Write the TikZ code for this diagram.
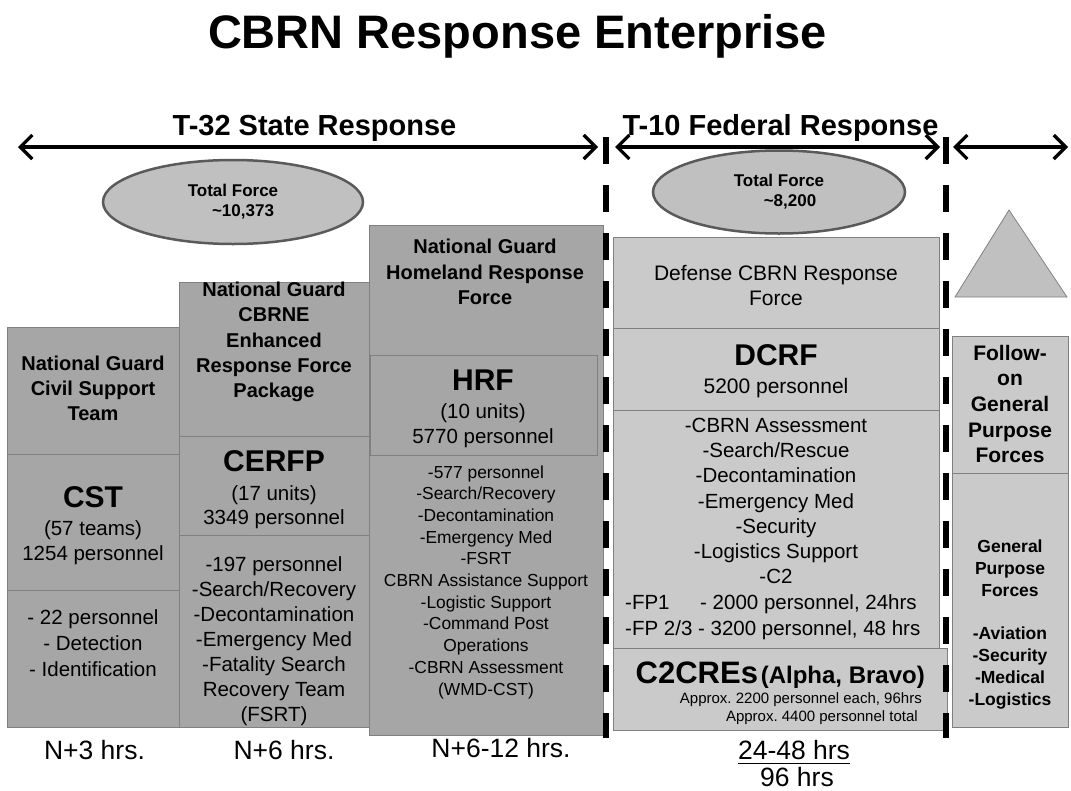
\documentclass[tikz,border=0pt]{standalone}
\usepackage{fontspec}
\setmainfont{Liberation Sans}
\usetikzlibrary{arrows.meta, positioning, shapes.geometric, calc}
\definecolor{ngfill}{RGB}{166,166,166}
\definecolor{fedfill}{RGB}{202,202,202}
\definecolor{boxedge}{RGB}{128,128,128}
\definecolor{ovalfill}{RGB}{192,192,192}
\definecolor{ovaledge}{RGB}{90,90,90}
\newcommand{\fsz}[2]{\fontsize{#1}{#2}\selectfont}

\begin{document}
\begin{tikzpicture}[x=1pt, y=-1pt,
    % -- boxes --
    ngbox/.style={rectangle, draw=boxedge, fill=ngfill, line width=0.8pt,
                  inner sep=0pt, anchor=north west},
    fedbox/.style={rectangle, draw=boxedge, fill=fedfill, line width=0.8pt,
                   inner sep=0pt, anchor=north west},
    oval/.style={ellipse, draw=ovaledge, fill=ovalfill, line width=2.5pt,
                 align=center, font=\fsz{17}{20}\bfseries},
    % -- texts --
    hdr/.style={align=center, font=\fsz{20}{25.3}\bfseries, inner sep=0pt},
    unit/.style={align=center, font=\fsz{20.5}{25}, inner sep=0pt},
    tasks/.style={align=center, font=\fsz{17.4}{21.7}, inner sep=0pt},
    hrs/.style={font=\fsz{26.5}{30}, inner sep=0pt},
    % -- lines --
    span/.style={line width=3.2pt,
                 {Straight Barb[length=12pt 0, width=24pt 0]}-{Straight Barb[length=12pt 0, width=24pt 0]}},
    border/.style={line width=6.5pt, dash pattern=on 27pt off 21pt}
]
\useasboundingbox (0,0) rectangle (1071,790);

% === Titles ===
\node[font=\fsz{47}{50}\bfseries] (title) at (517.5,36) {CBRN Response Enterprise};
\node[font=\fsz{29}{32}\bfseries] (statelbl) at (314.5,128.5) {T-32 State Response};
\node[font=\fsz{29}{32}\bfseries] (fedlbl) at (780.5,128.5) {T-10 Federal Response};

% === Total force ovals ===
\node[oval, minimum width=260pt, minimum height=84pt] (stateforce) at (233,202)
  {Total Force\\\hspace*{20pt}\textasciitilde10,373};
\node[oval, minimum width=252pt, minimum height=83pt] (fedforce) at (779,192)
  {Total Force\\\hspace*{22pt}\textasciitilde8,200};
\draw[fill=ovalfill, draw=boxedge, line width=0.8pt] (1009,210) -- (1067,297) -- (955,297) -- cycle;

% === Column boxes ===
\node[ngbox, minimum width=172pt, minimum height=127pt] (csthead)   at (7,327)   {};
\node[ngbox, minimum width=172pt, minimum height=136pt] (cstunit)   at (7,454)   {};
\node[ngbox, minimum width=172pt, minimum height=137pt] (csttasks)  at (7,590)   {};
\node[ngbox, minimum width=190pt, minimum height=154pt] (cerfphead) at (179,282) {};
\node[ngbox, minimum width=190pt, minimum height=99pt]  (cerfpunit) at (179,436) {};
\node[ngbox, minimum width=190pt, minimum height=192pt] (cerfptasks) at (179,535) {};
\node[ngbox, minimum width=234pt, minimum height=510pt] (hrfcol)    at (369,225) {};
\node[ngbox, minimum width=227pt, minimum height=100pt] (hrfunit)   at (370,355) {};
\node[fedbox, minimum width=326pt, minimum height=91pt]  (dcrfhead)  at (613,237) {};
\node[fedbox, minimum width=326pt, minimum height=82pt]  (dcrfunit)  at (613,328) {};
\node[fedbox, minimum width=326pt, minimum height=238pt] (dcrftasks) at (613,410) {};
\node[fedbox, minimum width=334pt, minimum height=82pt]  (c2cre)     at (613,648) {};
\node[fedbox, minimum width=116pt, minimum height=137pt] (gpfhead)   at (952,336) {};
\node[fedbox, minimum width=116pt, minimum height=254pt] (gpftasks)  at (952,473) {};

% === CST column ===
\node[hdr] (csthdr) at (93,388.5) {National Guard\\Civil Support\\Team};
\node[unit] (cstnum) at (93,526) {{\fsz{30}{32}\bfseries CST}\\[3pt](57 teams)\\1254 personnel};
\node[unit, font=\fsz{20.5}{26}] (cstlist) at (93,643.5) {- 22 personnel\\- Detection\\- Identification};

% === CERFP column ===
\node[hdr] (cerfphdr) at (274,342) {National Guard\\CBRNE\\Enhanced\\Response Force\\Package};
\node[unit, font=\fsz{20.5}{24}] (cerfpnum) at (274,490) {{\fsz{30}{32}\bfseries CERFP}\\[5pt](17 units)\\3349 personnel};
\node[unit] (cerfplist) at (274,641.5)
  {-197 personnel\\-Search/Recovery\\-Decontamination\\-Emergency Med\\-Fatality Search\\Recovery Team\\(FSRT)};

% === HRF column ===
\node[hdr] (hrfhdr) at (485,272) {National Guard\\Homeland Response\\Force};
\node[unit] (hrfnum) at (483,408.5) {{\fsz{30}{32}\bfseries HRF}\\[3pt](10 units)\\5770 personnel};
\node[tasks] (hrflist) at (486,582)
  {-577 personnel\\-Search/Recovery\\-Decontamination\\-Emergency Med\\-FSRT\\CBRN Assistance Support\\
   -Logistic Support\\-Command Post\\Operations\\-CBRN Assessment\\(WMD-CST)};

% === DCRF column ===
\node[unit, font=\fsz{21}{25}] (dcrfhdr) at (776,285.5) {Defense CBRN Response\\Force};
\node[unit, font=\fsz{21}{25}] (dcrfnum) at (776,371) {{\fsz{30}{32}\bfseries DCRF}\\[3.5pt]5200 personnel};
\node[unit, font=\fsz{20.5}{25.2}] (dcrflist) at (776,501)
  {-CBRN Assessment\\-Search/Rescue\\-Decontamination\\-Emergency Med\\-Security\\-Logistics Support\\-C2};
\node[unit, anchor=base west] (fp1) at (625,609) {-FP1};
\node[unit, anchor=base west] (fp1pers) at (700,609) {- 2000 personnel, 24hrs};
\node[unit, anchor=base west] (fp23) at (625,635) {-FP 2/3 - 3200 personnel, 48 hrs};
\node[anchor=base east, inner sep=0pt] (c2title) at (925,683)
  {{\fsz{31}{34}\bfseries C2CREs} {\fsz{24}{28}\bfseries(Alpha, Bravo)}};
\node[anchor=north east, align=right, font=\fsz{15}{18}, inner sep=0pt] (c2approx) at (922,692.5)
  {Approx.\ 2200 personnel each, 96hrs\\Approx.\ 4400 personnel total\hspace*{4pt}};

% === Follow-on column ===
\node[hdr, font=\fsz{21}{25.7}\bfseries] (gpfhdr) at (1010,404) {Follow-\\on\\General\\Purpose\\Forces};
\node[hdr, font=\fsz{17.5}{22}\bfseries] (gpflist) at (1010,625)
  {General\\Purpose\\Forces\\[21pt]-Aviation\\-Security\\-Medical\\-Logistics};

% === Response times ===
\node[hrs] (csthrs)   at (94.5,750) {N+3 hrs.};
\node[hrs] (cerfphrs) at (284,750)  {N+6 hrs.};
\node[hrs] (hrfhrs)   at (501,748)  {N+6-12 hrs.};
\node[hrs] (dcrfhrs)  at (794,750)  {24-48 hrs};
\node[hrs] (c2hrs)    at (797,777)  {96 hrs};
\draw[line width=1.8pt] ([yshift=-4pt]dcrfhrs.base west) -- ([yshift=-4pt]dcrfhrs.base east);

% === Response borders ===
\draw[border] (606,137) -- (606,738);
\draw[border] (946,137) -- (946,738);

% === Span arrows ===
\coordinate (stateL) at (18,147);
\coordinate (stateR) at (598,147);
\coordinate (fedL)   at (615,147);
\coordinate (fedR)   at (940,147);
\coordinate (gpfL)   at (953,147);
\coordinate (gpfR)   at (1068,147);
\draw[span] (stateL) -- (stateR);
\draw[span] (fedL) -- (fedR);
\draw[span] (gpfL) -- (gpfR);

\end{tikzpicture}
\end{document}
